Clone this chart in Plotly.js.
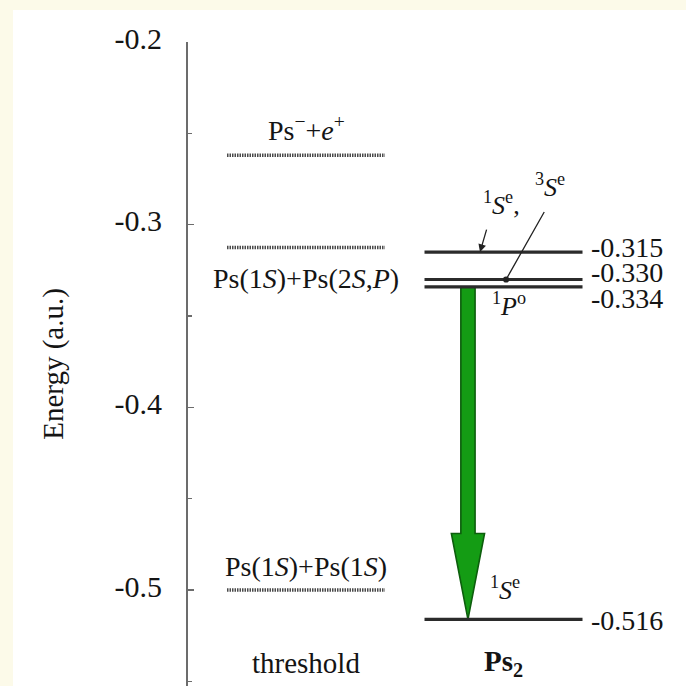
<!DOCTYPE html>
<html>
<head>
<meta charset="utf-8">
<script src="https://cdn.plot.ly/plotly-3.0.1.min.js"></script>
<style>
  html, body { margin: 0; padding: 0; width: 686px; height: 686px; background: #fcfae9; overflow: hidden; }
  #bg { position: absolute; left: 13px; top: 10px; right: 0; bottom: 0; background: #ffffff; }
  #plot { position: absolute; left: 0; top: 0; width: 686px; height: 686px; }
</style>
</head>
<body>
<div id="bg"></div>
<div id="plot"></div>
<script>
// ---- data ----
const columns = ['threshold', 'Ps<sub>2</sub>'];
const columnX = [1, 2];
const thresholdLabels = ['Ps<sup>\u2212</sup>+<i>e</i><sup>+</sup>', 'Ps(1<i>S</i>)+Ps(2<i>S</i>,<i>P</i>)', 'Ps(1<i>S</i>)+Ps(1<i>S</i>)'];
const thresholdEnergies = [-0.262, -0.3125, -0.5];
const ps2States = ['<sup>1</sup><i>S</i><sup>e</sup>,', '<sup>3</sup><i>S</i><sup>e</sup>', '<sup>1</sup><i>P</i><sup>o</sup>', '<sup>1</sup><i>S</i><sup>e</sup>'];
const ps2Energies = [-0.315, -0.330, -0.334, -0.516];
const ps2ValueLabels = ['-0.315', '-0.330', '-0.334', '-0.516'];
const yTickVals = [-0.5, -0.4, -0.3, -0.2];
const yTickText = ['-0.5', '-0.4', '-0.3', '-0.2'];
const yTitle = 'Energy (a.u.)';

// ---- styles ----
const FONT = 'Liberation Serif, Times New Roman, serif';
const TXT = '#141414';
const halfW = 0.4;

const traces = [];

// green transition arrow (from 1P^o down to ground 1S^e)
const ac = 1.82, shaftW = 0.036, headW = 0.084, headLen = 0.047;
const aTop = ps2Energies[2], aTip = ps2Energies[3], aHead = aTip + headLen;
traces.push({
  type: 'scatter', mode: 'lines', fill: 'toself',
  x: [ac - shaftW, ac - shaftW, ac - headW, ac, ac + headW, ac + shaftW, ac + shaftW, ac - shaftW],
  y: [aTop, aHead, aHead, aTip, aHead, aHead, aTop, aTop],
  fillcolor: '#149c14', line: { color: '#0d5e0d', width: 1.6 }, hoverinfo: 'skip'
});

// threshold levels
thresholdEnergies.forEach(e => {
  traces.push({
    type: 'scatter', mode: 'lines',
    x: [columnX[0] - halfW, columnX[0] + halfW], y: [e, e],
    line: { color: '#4a4a4a', width: 3.5, dash: '1.5px,1px' }, hoverinfo: 'skip'
  });
});

// Ps2 levels
ps2Energies.forEach(e => {
  traces.push({
    type: 'scatter', mode: 'lines',
    x: [columnX[1] - halfW, columnX[1] + halfW], y: [e, e],
    line: { color: '#2b2b2b', width: 3.2 }, hoverinfo: 'skip'
  });
});

const annotations = [];

// threshold labels
const thrShift = [27, -31, 24];
thresholdLabels.forEach((t, i) => {
  annotations.push({
    x: columnX[0], y: thresholdEnergies[i], xref: 'x', yref: 'y', text: t, showarrow: false,
    yshift: thrShift[i], font: { family: FONT, size: 28, color: TXT }
  });
});

// value labels for Ps2 levels
const valShift = [5, 7, -12, -1];
ps2ValueLabels.forEach((t, i) => {
  annotations.push({
    x: columnX[1] + halfW, y: ps2Energies[i], xref: 'x', yref: 'y', text: t, showarrow: false,
    xanchor: 'left', xshift: 6, yshift: valShift[i], font: { family: FONT, size: 28, color: TXT }
  });
});

// state labels
const stateX = [1.99, 2.235, 2.03, 2.01];
const stateShift = [49, 94, -18, 31];
ps2States.forEach((t, i) => {
  annotations.push({
    x: stateX[i], y: ps2Energies[i], xref: 'x', yref: 'y', text: t, showarrow: false,
    yshift: stateShift[i], font: { family: FONT, size: 26, color: TXT }
  });
});

// pointer arrows from 1S^e and 3S^e labels
annotations.push({
  x: 1.881, y: ps2Energies[0], xref: 'x', yref: 'y', text: '', showarrow: true,
  ax: 7, ay: -24, arrowhead: 2, arrowsize: 1.2, arrowwidth: 1.3, arrowcolor: '#222'
});
annotations.push({
  x: 2.013, y: ps2Energies[1], xref: 'x', yref: 'y', text: '', showarrow: true,
  ax: 39, ay: -69, arrowhead: 6, arrowsize: 1.2, arrowwidth: 1.3, arrowcolor: '#222'
});

// column labels
columns.forEach((c, i) => {
  annotations.push({
    x: columnX[i], y: 0, xref: 'x', yref: 'paper', text: i === 1 ? '<b>' + c + '</b>' : c,
    showarrow: false, yanchor: 'middle', yshift: 23, font: { family: FONT, size: 29, color: TXT }
  });
});

const layout = {
  width: 686, height: 686,
  margin: { l: 188, r: 0, t: 42, b: 0 },
  paper_bgcolor: 'rgba(0,0,0,0)', plot_bgcolor: 'rgba(0,0,0,0)',
  showlegend: false, hovermode: false,
  xaxis: { range: [0.4025, 2.924], visible: false, fixedrange: true },
  yaxis: {
    range: [-0.5525, -0.2], showgrid: false, zeroline: false,
    showline: true, linecolor: '#6c6c6c', linewidth: 2,
    tickmode: 'array', tickvals: yTickVals, ticktext: yTickText,
    ticks: 'inside', ticklen: 6, tickwidth: 1.5, tickcolor: '#6c6c6c',
    minor: { dtick: 0.05, ticks: 'inside', ticklen: 4, tickcolor: '#6c6c6c' },
    ticklabelstandoff: 18, ticklabelshift: -4,
    tickfont: { family: FONT, size: 30, color: TXT },
    title: { text: yTitle, font: { family: FONT, size: 29, color: TXT }, standoff: 42 },
    fixedrange: true
  },
  annotations: annotations
};

Plotly.newPlot('plot', traces, layout, { staticPlot: true, displayModeBar: false });
</script>
</body>
</html>
